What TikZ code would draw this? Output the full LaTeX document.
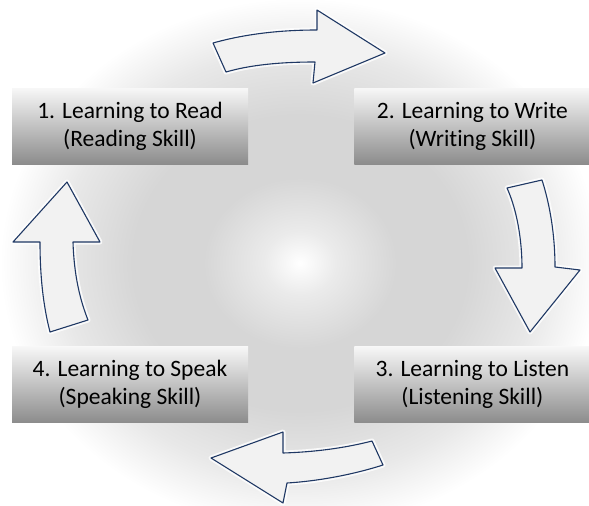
\documentclass[tikz,border=0pt]{standalone}
\usepackage{fontspec}
\setmainfont{Carlito}[Ligatures=NoCommon]
\definecolor{arrowBlue}{RGB}{31, 56, 100}
\usepackage{tikz}
\usetikzlibrary{positioning}
\pgfdeclareradialshading{glowbg}{\pgfpoint{0bp}{0bp}}{color(0bp)=(white); color(3bp)=(black!8); color(8bp)=(black!16); color(14bp)=(black!16); color(20bp)=(black!9); color(25bp)=(white); color(50bp)=(white)}

\begin{document}
\begin{tikzpicture}[
    x=1pt, y=-1pt,
    skillbox/.style={rectangle, minimum width=236pt, minimum height=76pt,
                     inner sep=0pt, align=center, top color=black!3,
                     bottom color=black!45, font=\fontsize{23.5}{28}\selectfont},
    cyclearrow/.style={draw=arrowBlue, line width=1.1pt, line join=round,
                       fill=black!5, preaction={draw=white, line width=5pt,
                       opacity=0.8, line join=round}},
  ]
    \useasboundingbox (0,0) rectangle (589,506);
    \fill[white] (0,0) rectangle (589,506);
    \shade[shading=glowbg] (300,263) ellipse [x radius=300pt, y radius=265pt];

    \node[skillbox] (READ) at (130,126) {1. Learning to Read\\(Reading Skill)};
    \node[skillbox, right=106pt of READ] (WRITE) {2. Learning to Write\\(Writing Skill)};
    \node[skillbox, below=182pt of WRITE] (LISTEN) {3. Learning to Listen\\(Listening Skill)};
    \node[skillbox, below=182pt of READ] (SPEAK) {4. Learning to Speak\\(Speaking Skill)};

    \draw[cyclearrow] (213,43) .. controls (245,34) and (280,30) .. (317,30) -- (317,10)
        -- (385,53) -- (313,83) -- (315,62) .. controls (280,62) and (250,65) .. (226,72) -- cycle;
    \draw[cyclearrow] (507,188) -- (542,180) .. controls (550,205) and (555,235) .. (555,267)
        -- (580,270) -- (530,332) -- (495,268) -- (522,268) .. controls (522,240) and (517,210) .. (507,188) -- cycle;
    \draw[cyclearrow] (211,458) -- (283,432) -- (283,453) .. controls (315,452) and (345,448) .. (372,441)
        -- (383,465) .. controls (355,474) and (320,481) .. (287,483) -- (283,503) -- cycle;
    \draw[cyclearrow] (67,182) -- (100,242) -- (73,242) .. controls (74,275) and (80,300) .. (88,320)
        -- (50,332) .. controls (43,305) and (40,275) .. (40,242) -- (13,242) -- cycle;
  \end{tikzpicture}
\end{document}
